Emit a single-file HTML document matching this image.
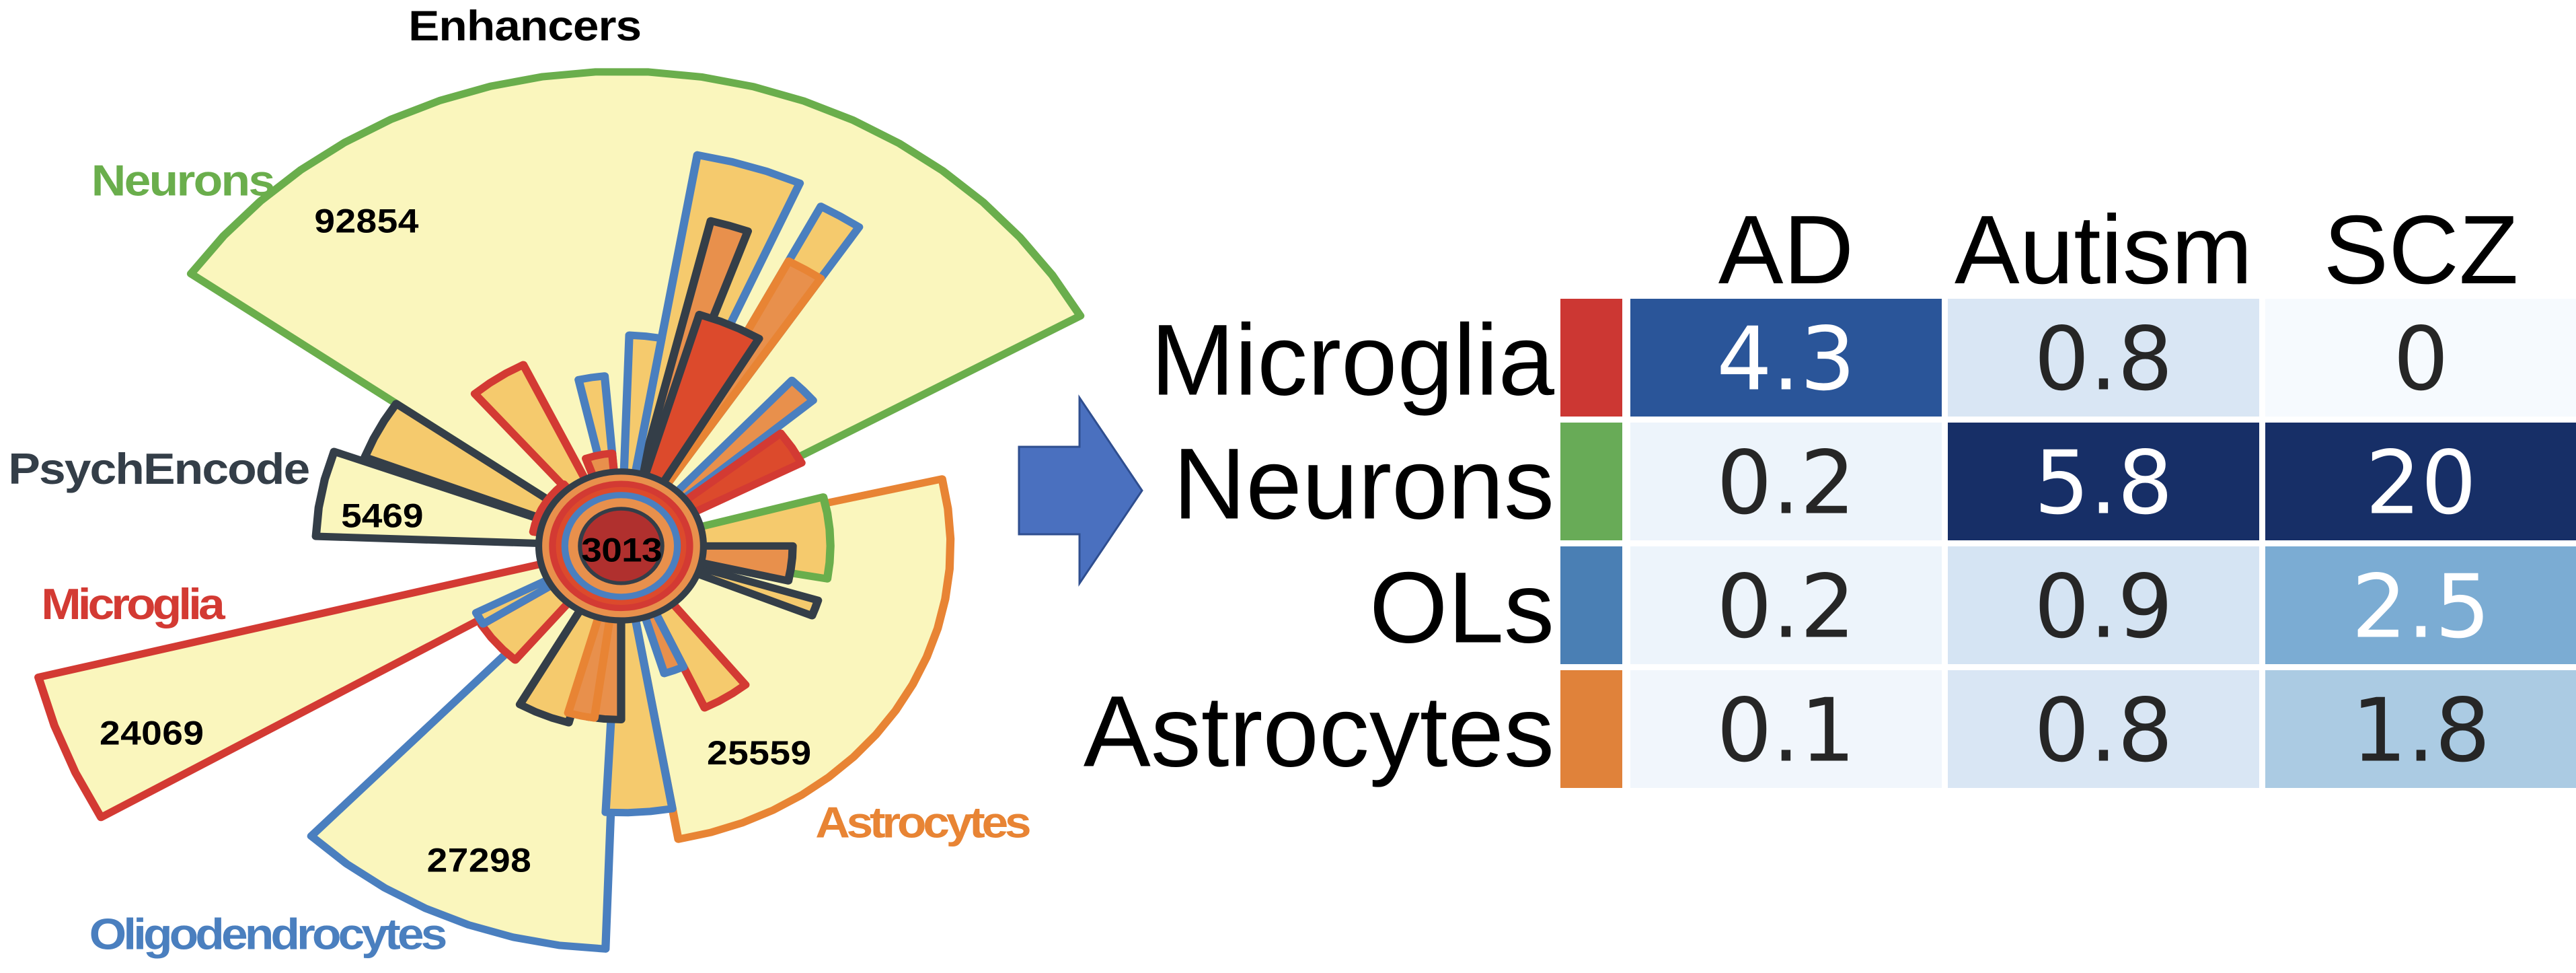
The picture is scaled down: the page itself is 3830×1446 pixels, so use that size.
<!DOCTYPE html>
<html><head><meta charset="utf-8"><style>
html,body{margin:0;padding:0;background:#fff;overflow:hidden;}
svg{display:block;}
</style></head><body>
<svg width="3830" height="1446" viewBox="0 0 3830 1446" xmlns="http://www.w3.org/2000/svg">
<g transform="scale(1.0204,0.922)">
<g id="rose"></g>
<g id="labels" font-family="Liberation Sans, sans-serif" font-weight="bold">
<text x="765" y="65" font-size="68" text-anchor="middle" fill="#000" textLength="340">Enhancers</text>
<text x="133" y="315" font-size="70" fill="#6aae4c" textLength="268">Neurons</text>
<text x="12" y="780" font-size="70" fill="#343e48" textLength="440">PsychEncode</text>
<text x="60" y="998" font-size="70" fill="#d33a33" textLength="268">Microglia</text>
<text x="130" y="1530" font-size="70" fill="#4a7fbf" textLength="522">Oligodendrocytes</text>
<text x="1188" y="1350" font-size="70" fill="#e88434" textLength="315">Astrocytes</text>
<g font-size="54" fill="#000">
<text x="458" y="375" textLength="152">92854</text>
<text x="497" y="850" textLength="120">5469</text>
<text x="145" y="1200" textLength="152">24069</text>
<text x="622" y="1405" textLength="152">27298</text>
<text x="1030" y="1232" textLength="152">25559</text>
<text x="847" y="905" textLength="118">3013</text>
</g>
</g>
</g>
<g>
<polygon points="1515,664 1605,664 1605,591 1698,729 1605,867 1605,794 1515,794" fill="#4a70bf" stroke="#2f4e8f" stroke-width="3"/>
</g>
<g id="heat"></g>
</svg>
<script>
// ---------- rose chart data ----------
const sectorNames = ["neurons","astrocytes","oligodendrocytes","microglia","psychencode","psych-bar","spike-blue-1","spike-blue-2","spike-dark","spike-orange","bar-red-top","bar-redline-ul","bar-blue-ul","bar-blue-up","bar-blue-r","bar-red-r","bar-green-r","bar-dark-r","spike-dark-r","bar-red-lr","bar-blue-lr","bar-orange-down","bar-dark-down","bar-dark-dl","bar-orange-dl","bar-red-dl","bar-blue-dl","bar-red-inner","bar-orange-inner"];
const sectorStart = [-145,-13,92,150,182,-159,-80,-62,-76,-62,-73,-131,-103,-88,-47,-38,-15,0,17,51,65,80,90,105,98,130,148,-170,-110];
const sectorEnd   = [-29,80,134,166,200,-145,-66,-56,-70,-56,-59,-116,-95,-80,-40,-27,10,13,22,65,73,93,100,120,106,148,153,-130,-95];
const sectorValue = [765,480,650,875,445,400,640,620,540,520,390,325,275,340,365,295,305,250,300,288,215,430,280,295,280,240,237,130,150];
const sectorFill  = ["#faf6bd","#faf6bd","#faf6bd","#faf6bd","#faf6bd","#f5ca6d","#f5ca6d","#f5ca6d","#e8904c","#e8904c","#dc4a2c","#f5ca6d","#f5ca6d","#f5ca6d","#e8904c","#dc4a2c","#f5ca6d","#e8904c","#f5ca6d","#f5ca6d","#e8904c","#f5ca6d","#e8904c","#f5ca6d","#e8904c","#f5ca6d","#f5ca6d","#e8904c","#e8904c"];
const sectorStroke= ["#6aae4c","#e88434","#4a7fbf","#d33a33","#343e48","#343e48","#4a7fbf","#4a7fbf","#343e48","#e88434","#343e48","#d33a33","#4a7fbf","#4a7fbf","#4a7fbf","#d33a33","#6aae4c","#343e48","#343e48","#d33a33","#4a7fbf","#4a7fbf","#343e48","#343e48","#e88434","#d33a33","#4a7fbf","#d33a33","#d33a33"];
const ringValues = [120,100,82];
const ringStroke = ["#343e48","#d33a33","#4a7fbf"];
const ringFill = ["#e8904c","#dc4a2c","#e8904c"];
const coreValue = 60;

const CX=905, CY=880;
const rScale = v => v;
const ang = d => d*Math.PI/180;
const NS="http://www.w3.org/2000/svg";
const rose=document.getElementById('rose');
function wedgePath(a0,a1,r){
  const n=Math.max(2,Math.ceil((a1-a0)/6));
  let d=`M${CX},${CY}`;
  for(let i=0;i<=n;i++){const a=ang(a0+(a1-a0)*i/n);d+=` L${(CX+r*Math.cos(a)).toFixed(1)},${(CY+r*Math.sin(a)).toFixed(1)}`;}
  return d+'Z';
}
const order=sectorValue.map((v,i)=>i).sort((a,b)=>sectorValue[b]-sectorValue[a]);
order.forEach(i=>{
  const p=document.createElementNS(NS,'path');
  p.setAttribute('d',wedgePath(sectorStart[i],sectorEnd[i],rScale(sectorValue[i])));
  p.setAttribute('fill',sectorFill[i]);p.setAttribute('stroke',sectorStroke[i]);
  p.setAttribute('stroke-width','12');p.setAttribute('stroke-linejoin','round');
  
  
  rose.appendChild(p);
});
ringValues.forEach((v,i)=>{
  const c=document.createElementNS(NS,'circle');
  c.setAttribute('cx',CX);c.setAttribute('cy',CY);c.setAttribute('r',rScale(v));
  c.setAttribute('fill',ringFill[i]);c.setAttribute('stroke',ringStroke[i]);c.setAttribute('stroke-width','10');
  
  
  rose.appendChild(c);
});
const core=document.createElementNS(NS,'circle');
core.setAttribute('cx',CX);core.setAttribute('cy',CY);core.setAttribute('r',rScale(coreValue));
core.setAttribute('fill','#b0302e');core.setAttribute('stroke','#343e48');core.setAttribute('stroke-width','6');


rose.appendChild(core);

// ---------- heatmap data ----------
const diseases = ["AD","Autism","SCZ"];
const cellTypes = ["Microglia","Neurons","OLs","Astrocytes"];
const typeColors = ["#cc3733","#68ab57","#4a7fb4","#e0823a"];
const valAD = [4.3,0.2,0.2,0.1];
const valAutism = [0.8,5.8,0.9,0.8];
const valSCZ = [0,20,2.5,1.8];
const labelAD = ["4.3","0.2","0.2","0.1"];
const labelAutism = ["0.8","5.8","0.9","0.8"];
const labelSCZ = ["0","20","2.5","1.8"];
// colormap stops (value -> colour)
const cmapVals = [0,0.1,0.2,0.8,0.9,1.8,2.5,4.3,5.8];
const cmapCols = [[246,250,254],[241,246,252],[237,244,251],[217,230,244],[213,228,243],[171,203,227],[123,172,211],[42,85,153],[23,47,103]];

const colX0=2424, colW=463, rowY0=444, rowH=175, gap=9;
const heat=document.getElementById('heat');
function colorFor(v){
  if(v>=cmapVals[cmapVals.length-1]) return `rgb(${cmapCols[cmapCols.length-1].join(',')})`;
  let i=0; while(i<cmapVals.length-2 && v>cmapVals[i+1]) i++;
  const f=(v-cmapVals[i])/(cmapVals[i+1]-cmapVals[i]);
  const a=cmapCols[i],b=cmapCols[i+1];
  return `rgb(${a.map((c,k)=>Math.round(c+(b[k]-c)*f)).join(',')})`;
}
const cols=[valAD,valAutism,valSCZ], labs=[labelAD,labelAutism,labelSCZ];
diseases.forEach((d,j)=>{
  const t=document.createElementNS(NS,'text');
  t.setAttribute('x',colX0+j*(colW+gap)+colW/2);t.setAttribute('y',421);
  t.setAttribute('text-anchor','middle');t.setAttribute('font-size','145');
  t.setAttribute('font-family','Liberation Sans, sans-serif');
  t.textContent=d;
  
  
  heat.appendChild(t);
});
cellTypes.forEach((c,i)=>{
  const y=rowY0+i*(rowH+gap);
  const lab=document.createElementNS(NS,'text');
  lab.setAttribute('x',2311);lab.setAttribute('y',y+rowH/2+55);
  lab.setAttribute('text-anchor','end');lab.setAttribute('font-size','150');
  lab.setAttribute('font-family','Liberation Sans, sans-serif');
  lab.textContent=c;
  
  
  heat.appendChild(lab);
  const sw=document.createElementNS(NS,'rect');
  sw.setAttribute('x',2320);sw.setAttribute('y',y);sw.setAttribute('width',92);sw.setAttribute('height',rowH);
  sw.setAttribute('fill',typeColors[i]);
  
  
  heat.appendChild(sw);
  cols.forEach((arr,j)=>{
    const x=colX0+j*(colW+gap);
    const r=document.createElementNS(NS,'rect');
    r.setAttribute('x',x);r.setAttribute('y',y);r.setAttribute('width',colW);r.setAttribute('height',rowH);
    r.setAttribute('fill',colorFor(arr[i]));
    
    
    heat.appendChild(r);
    const t=document.createElementNS(NS,'text');
    t.setAttribute('x',x+colW/2);t.setAttribute('y',y+rowH/2+47);
    t.setAttribute('text-anchor','middle');t.setAttribute('font-size','130');
    t.setAttribute('font-family','DejaVu Sans, sans-serif');
    t.setAttribute('fill',(arr[i]>=2 && arr[i]!==1.8)?'#ffffff':'#262626');
    t.textContent=labs[j][i];
    
    
    heat.appendChild(t);
  });
});
</script>
</body></html>
